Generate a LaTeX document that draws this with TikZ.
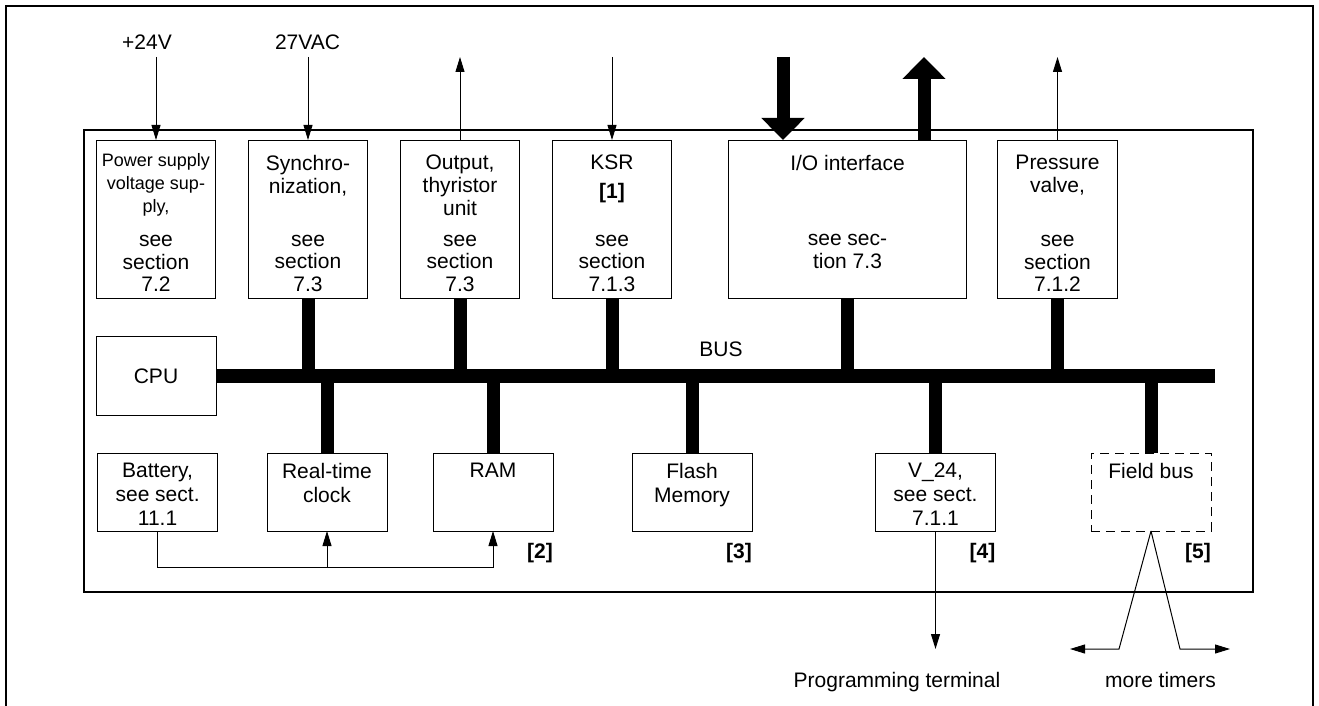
\documentclass[tikz,border=0pt]{standalone}
\usepackage{fontspec}
\setmainfont{Liberation Sans}
\usetikzlibrary{arrows.meta,positioning}

\tikzset{
  unit/.style={rectangle, draw=black, line width=1pt, inner sep=0pt, outer sep=0pt, minimum width=120pt, font=\fontsize{21}{22.6}\selectfont},
  tall/.style={unit, minimum width=119.5pt, minimum height=158pt},
  low/.style={unit, minimum height=78pt},
  txt/.style={inner sep=0pt, align=center, font=\fontsize{21}{22.6}\selectfont},
  lowtxt/.style={inner sep=0pt, align=center, font=\fontsize{21}{24}\selectfont},
  small/.style={inner sep=0pt, align=center, font=\fontsize{18}{23}\selectfont},
  tag/.style={inner sep=0pt, font=\fontsize{21}{24}\selectfont\bfseries},
  feed/.style={line width=1pt, -{Triangle[length=15pt,width=9pt]}},
  fat/.style={line width=13pt, -{Triangle[length=22pt,width=42pt]}},
  busline/.style={line width=13pt},
}

\begin{document}
\begin{tikzpicture}[x=1pt,y=-1pt]
	\useasboundingbox (0,0) rectangle (1319,706);
	% frames
	\draw[line width=2pt] (6,706) -- (6,6) -- (1313,6) -- (1313,706);
	\draw[line width=1.3pt] (84,130) rectangle (1253,592);

	% upper row
	\node[tall] (ps) at (156,219) {};
	\node[tall, anchor=west] (sync) at ([xshift=32.5pt]ps.east) {};
	\node[tall, anchor=west] (out) at ([xshift=32.5pt]sync.east) {};
	\node[tall, anchor=west] (ksr) at ([xshift=32.5pt]out.east) {};
	\node[tall, anchor=west, minimum width=237.5pt] (io) at ([xshift=57pt]ksr.east) {};
	\node[tall, anchor=west] (pv) at ([xshift=31.5pt]io.east) {};

	\node[small, anchor=north] (pstop) at ([yshift=-13pt]ps.north) {Power supply\\voltage sup-\\ply,};
	\node[txt, anchor=south] (psbot) at ([yshift=6pt]ps.south) {see\\section\\7.2};
	\node[txt, anchor=north] (synctop) at ([yshift=-15pt]sync.north) {Synchro-\\nization,};
	\node[txt, anchor=south] (syncbot) at ([yshift=6pt]sync.south) {see\\section\\7.3};
	\node[txt, anchor=north] (outtop) at ([yshift=-15pt]out.north) {Output,\\thyristor\\unit};
	\node[txt, anchor=south] (outbot) at ([yshift=6pt]out.south) {see\\section\\7.3};
	\node[txt, anchor=north] (ksrtop) at ([yshift=-15pt]ksr.north) {KSR\\[6pt]\textbf{[1]}};
	\node[txt, anchor=south] (ksrbot) at ([yshift=6pt]ksr.south) {see\\section\\7.1.3};
	\node[txt, anchor=north] (iotop) at ([yshift=-15pt]io.north) {I/O interface};
	\node[txt, anchor=south] (iobot) at ([yshift=29pt]io.south) {see sec-\\tion 7.3};
	\node[txt, anchor=north] (pvtop) at ([yshift=-15pt]pv.north) {Pressure\\valve,};
	\node[txt, anchor=south] (pvbot) at ([yshift=6pt]pv.south) {see\\section\\7.1.2};

	% cpu and bus
	\node[unit, minimum height=79pt] (cpu) at (156,376) {CPU};
	\coordinate (busend) at (1215,376);
	\draw[line width=14pt] (cpu.east) -- (busend);
	\node[txt, anchor=base] (buslbl) at (721,356) {BUS};

	% lower row
	\node[low] (bat) at (157.6,492) {};
	\node[low, anchor=west] (rtc) at ([xshift=49.4pt]bat.east) {};
	\node[low, anchor=west] (ram) at ([xshift=46pt]rtc.east) {};
	\node[low, anchor=west] (flash) at ([xshift=79pt]ram.east) {};
	\node[low, anchor=west] (v24) at ([xshift=123.5pt]flash.east) {};
	\node[low, anchor=west, dash pattern=on 9pt off 6pt] (fb) at ([xshift=95.5pt]v24.east) {};

	\node[lowtxt, anchor=north] (battxt) at ([yshift=-10pt]bat.north) {Battery,\\see sect.\\11.1};
	\node[lowtxt, anchor=north] (rtctxt) at ([yshift=-10pt]rtc.north) {Real-time\\clock};
	\node[lowtxt, anchor=north] (ramtxt) at ([yshift=-10pt]ram.north) {RAM};
	\node[lowtxt, anchor=north] (flashtxt) at ([yshift=-10pt]flash.north) {Flash\\Memory};
	\node[lowtxt, anchor=north] (v24txt) at ([yshift=-10pt]v24.north) {V\_24,\\see sect.\\7.1.1};
	\node[lowtxt, anchor=north] (fbtxt) at ([yshift=-10pt]fb.north) {Field bus};

	\node[tag, anchor=base east] (tag2) at ([yshift=-27pt]ram.south east) {[2]};
	\node[tag, anchor=base east] (tag3) at ([yshift=-27pt]flash.south east) {[3]};
	\node[tag, anchor=base east] (tag4) at ([yshift=-27pt]v24.south east) {[4]};
	\node[tag, anchor=base east] (tag5) at ([yshift=-27pt]fb.south east) {[5]};

	% bus taps
	\draw[busline] (sync.south) -- (sync.south |- busend);
	\draw[busline] (out.south) -- (out.south |- busend);
	\draw[busline] (ksr.south) -- (ksr.south |- busend);
	\draw[busline] (io.south) -- (io.south |- busend);
	\draw[busline] (pv.south) -- (pv.south |- busend);
	\draw[busline] (rtc.north) -- (rtc.north |- busend);
	\draw[busline] (ram.north) -- (ram.north |- busend);
	\draw[busline] (flash.north) -- (flash.north |- busend);
	\draw[busline] (v24.north) -- (v24.north |- busend);
	\draw[busline] (fb.north) -- (fb.north |- busend);

	% inputs and outputs on top
	\node[txt, anchor=base] (vdc) at (147,50) {+24V};
	\node[txt, anchor=base] (vac) at (307.5,50) {27VAC};
	\coordinate (psin) at ([yshift=83pt]ps.north);
	\coordinate (syncin) at ([yshift=83pt]sync.north);
	\coordinate (outup) at ([yshift=83pt]out.north);
	\coordinate (ksrin) at ([yshift=83pt]ksr.north);
	\coordinate (ioa) at ([xshift=-64.5pt]io.north);
	\coordinate (iob) at ([xshift=76.5pt]io.north);
	\coordinate (ioin) at ([yshift=83pt]ioa);
	\coordinate (ioout) at ([yshift=83pt]iob);
	\coordinate (pvup) at ([yshift=83pt]pv.north);
	\draw[feed] (psin) -- (ps.north);
	\draw[feed] (syncin) -- (sync.north);
	\draw[feed] (out.north) -- (outup);
	\draw[feed] (ksrin) -- (ksr.north);
	\draw[fat] (ioin) -- (ioa);
	\draw[fat] (iob) -- (ioout);
	\draw[feed] (pv.north) -- (pvup);

	% battery feed
	\coordinate (rail) at ([yshift=-36pt]bat.south);
	\draw[feed] (bat.south) -- (rail) -| (ram.south);
	\draw[feed] (rail -| rtc.south) -- (rtc.south);

	% outputs at the bottom
	\coordinate (term) at ([yshift=-118pt]v24.south);
	\draw[feed] (v24.south) -- (term);
	\node[txt, anchor=base] (termtxt) at (897,687) {Programming terminal};
	\coordinate (fbl) at ([xshift=-32pt,yshift=-118pt]fb.south);
	\coordinate (fbr) at ([xshift=29pt,yshift=-118pt]fb.south);
	\coordinate (tmrl) at ([xshift=-81pt,yshift=-118pt]fb.south);
	\coordinate (tmrr) at ([xshift=79pt,yshift=-118pt]fb.south);
	\draw[feed] (fb.south) -- (fbl) -- (tmrl);
	\draw[feed] (fb.south) -- (fbr) -- (tmrr);
	\node[txt, anchor=base] (tmrtxt) at (1160.5,687) {more timers};
\end{tikzpicture}
\end{document}
